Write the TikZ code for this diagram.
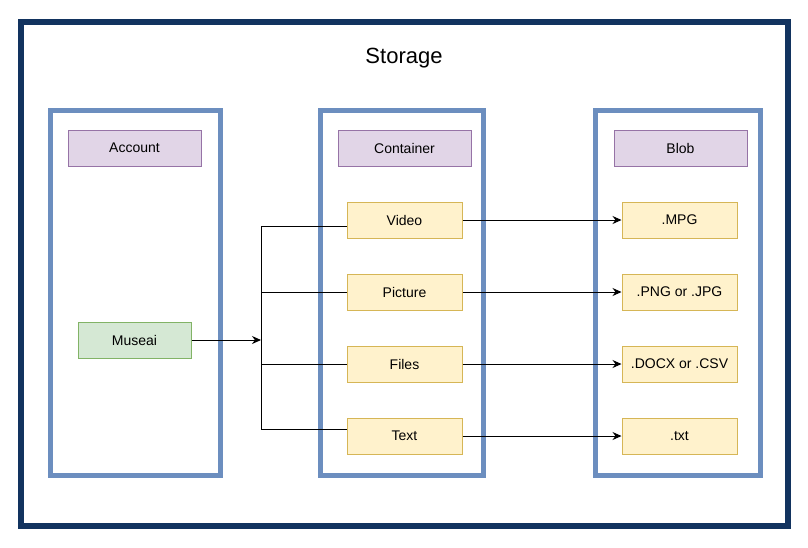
\documentclass[tikz,border=0pt]{standalone}
\usepackage{fontspec}
\setmainfont{Liberation Sans}
\usetikzlibrary{arrows.meta}
\definecolor{navy}{HTML}{12335F}
\definecolor{panelblue}{HTML}{6C8EBF}
\definecolor{purplefill}{HTML}{E1D5E7}
\definecolor{purpledraw}{HTML}{9673A6}
\definecolor{yellowfill}{HTML}{FFF2CC}
\definecolor{yellowdraw}{HTML}{D6B656}
\definecolor{greenfill}{HTML}{D5E8D4}
\definecolor{greendraw}{HTML}{82B366}
\tikzset{
  header/.style={draw=purpledraw, fill=purplefill, line width=1pt, minimum width=133pt, minimum height=36pt, inner sep=0pt, font=\fontsize{14}{16}\selectfont},
  itembox/.style={draw=yellowdraw, fill=yellowfill, line width=1pt, minimum width=115pt, minimum height=36pt, inner sep=0pt, font=\fontsize{14}{16}\selectfont},
  acctbox/.style={draw=greendraw, fill=greenfill, line width=1pt, minimum width=113pt, minimum height=36pt, inner sep=0pt, font=\fontsize{14}{16}\selectfont},
  panel/.style={draw=panelblue, line width=5pt},
  conn/.style={draw=black, line width=1pt},
  arr/.style={conn, -{Stealth[length=9pt,width=8pt]}}
}
\begin{document}
\begin{tikzpicture}[x=1pt,y=-1pt]
\useasboundingbox (0,0) rectangle (808,547);
% outer frame
\draw[navy, line width=6pt] (21,22) rectangle (788,526);
\node[font=\fontsize{22}{26}\selectfont] (title) at (404,58) {Storage};
% panels
\draw[panel] (50,110) rectangle (220,475);
\draw[panel] (320,110) rectangle (483,475);
\draw[panel] (595,110) rectangle (760,475);
% headers
\node[header] (account) at (134.5,148) {Account};
\node[header] (container) at (404.5,148) {Container};
\node[header] (blob) at (680.5,148) {Blob};
% container items
\node[itembox] (video) at (404.5,220) {Video};
\node[itembox] (picture) at (404.5,292) {Picture};
\node[itembox] (files) at (404.5,364) {Files};
\node[itembox] (text) at (404.5,436) {Text};
% blob items
\node[itembox] (mpg) at (679.5,220) {.MPG};
\node[itembox] (png) at (679.5,292) {.PNG or .JPG};
\node[itembox] (docx) at (679.5,364) {.DOCX or .CSV};
\node[itembox] (txt) at (679.5,436) {.txt};
% account item
\node[acctbox] (museai) at (134.5,340) {Museai};
% junction
\coordinate (jmid) at (261,340);
\coordinate (jtop) at (261,226);
\coordinate (jbot) at (261,429);
\draw[arr] (museai.east) -- (jmid);
\draw[conn] (jtop) -- (jbot);
\draw[conn] (jtop) -- (video.west |- jtop);
\draw[conn] (jtop |- picture.west) -- (picture.west);
\draw[conn] (jtop |- files.west) -- (files.west);
\draw[conn] (jbot) -- (text.west |- jbot);
% right arrows
\draw[arr] (video.east) -- (mpg.west);
\draw[arr] (picture.east) -- (png.west);
\draw[arr] (files.east) -- (docx.west);
\draw[arr] (text.east) -- (txt.west);
\end{tikzpicture}
\end{document}
